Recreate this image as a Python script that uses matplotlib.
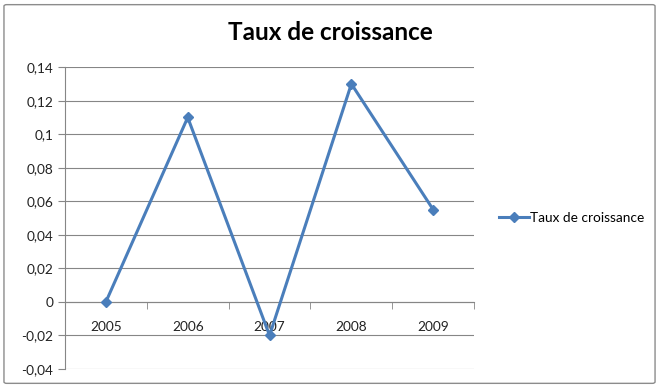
import matplotlib
matplotlib.use("Agg")
import matplotlib.pyplot as plt
from matplotlib.patches import FancyBboxPatch
from matplotlib.ticker import FuncFormatter, FixedLocator

years = ["2005", "2006", "2007", "2008", "2009"]
taux = [0.0, 0.11, -0.02, 0.13, 0.055]
yticks = [-0.04, -0.02, 0.0, 0.02, 0.04, 0.06, 0.08, 0.10, 0.12, 0.14]

plt.rcParams["font.family"] = ["Lato", "DejaVu Sans"]
blue = "#4A7EBB"
grid_c = "#868686"

fig = plt.figure(figsize=(6.61, 3.88), dpi=100)
# chart border
fig.patches.append(FancyBboxPatch((0.006, 0.012), 0.985, 0.976, boxstyle="round,pad=0,rounding_size=0.004",
                                  transform=fig.transFigure, fill=False, edgecolor="#8c8c8c", linewidth=1.0))

ax = fig.add_axes([0.0983, 0.049, 0.619, 0.778])
x = list(range(len(years)))
ax.plot(x, taux, color=blue, linewidth=2.2, marker="D", markersize=5.5,
        label="Taux de croissance", zorder=3)

ax.set_xlim(-0.5, len(years) - 0.5)
ax.set_ylim(yticks[0], yticks[-1])
ax.set_yticks(yticks)
ax.yaxis.set_major_formatter(FuncFormatter(lambda v, p: "0" if abs(v) < 1e-9 else f"{v:.2f}".rstrip("0").replace(".", ",")))
ax.grid(axis="y", color=grid_c, linewidth=0.8)
ax.set_axisbelow(True)

for s in ["top", "right"]:
    ax.spines[s].set_visible(False)
ax.spines["left"].set_color(grid_c)
ax.spines["bottom"].set_position(("data", 0))
ax.spines["bottom"].set_color(grid_c)

ax.xaxis.set_major_locator(FixedLocator(x))
ax.set_xticklabels(years)
ax.xaxis.set_minor_locator(FixedLocator([i - 0.5 for i in range(len(years) + 1)]))
ax.tick_params(axis="x", which="major", length=0, pad=14, labelsize=9.8, labelcolor="#222222")
ax.tick_params(axis="x", which="minor", length=5, color=grid_c, direction="out")
ax.tick_params(axis="y", length=5, color=grid_c, labelsize=9.8, labelcolor="#222222")

fig.text(0.5, 0.915, "Taux de croissance", ha="center", va="center", fontsize=17.5, fontweight="bold")
ax.legend(loc="center left", bbox_to_anchor=(1.03, 0.5), frameon=False, fontsize=9.8,
          handlelength=2.2, handletextpad=0.1)

fig.savefig("out.png", dpi=100)
